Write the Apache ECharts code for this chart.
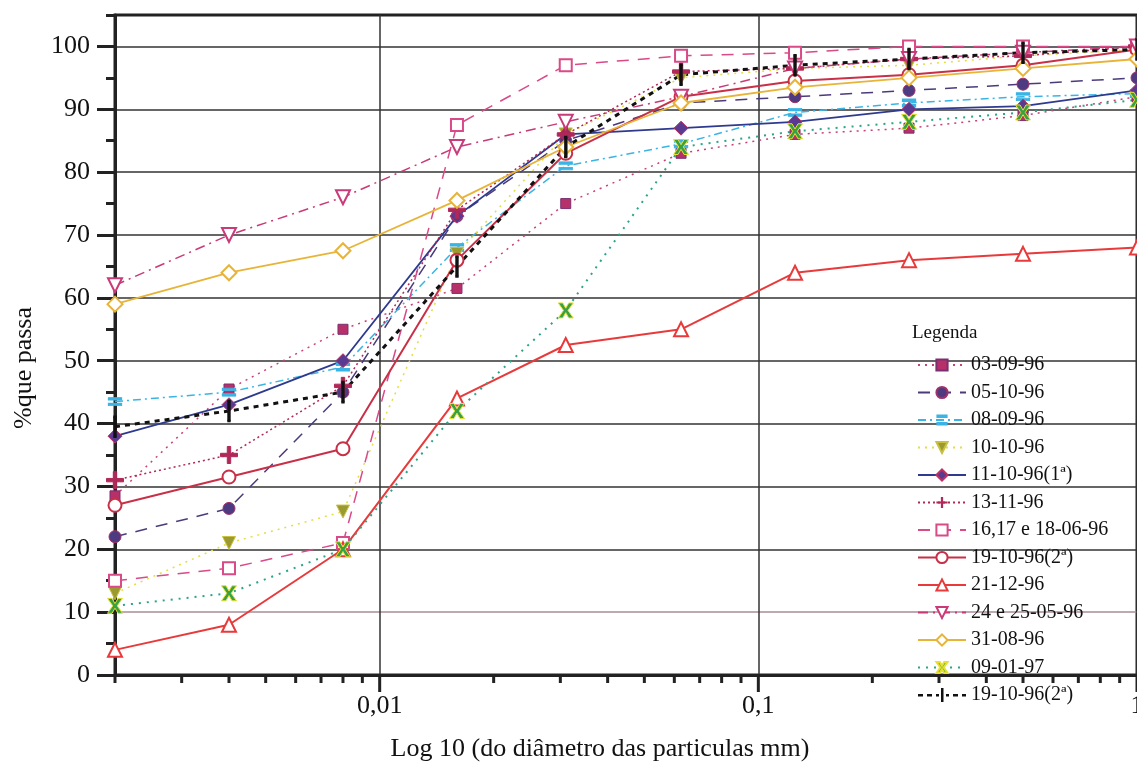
<!DOCTYPE html>
<html>
<head>
<meta charset="utf-8">
<script src="https://cdn.jsdelivr.net/npm/echarts@6/dist/echarts.min.js"></script>
<style>
  html, body { margin: 0; padding: 0; background: #fff; }
  #chart { width: 1137px; height: 764px; }
</style>
</head>
<body>
<div id="chart"></div>
<script>
// Particle diameters (mm) of the sieve / sedimentation steps
const sizes = [0.002, 0.004, 0.008, 0.016, 0.031, 0.0625, 0.125, 0.25, 0.5, 1];

// Cumulative % passing for each sampling date
const s030996  = [28.5, 45.5, 55, 61.5, 75, 83, 86, 87, 89, 92];
const s051096  = [22, 26.5, 45, 73, 85, 91, 92, 93, 94, 95];
const s080996  = [43.5, 45, 49, 68, 81, 84.5, 89.5, 91, 92, 92.5];
const s101096  = [13, 21, 26, 67, 86, 95, 96.5, 97, 98.5, 99.5];
const s111096  = [38, 43, 50, 73, 86, 87, 88, 90, 90.5, 93];
const s131196  = [31, 35, 46, 74, 86, 96, 96.5, 98, 98.5, 100];
const s161718  = [15, 17, 21, 87.5, 97, 98.5, 99, 100, 100, 100];
const s191096a = [27, 31.5, 36, 66, 83, 92, 94.5, 95.5, 97, 99.5];
const s211296  = [4, 8, 20, 44, 52.5, 55, 64, 66, 67, 68];
const s2425    = [62, 70, 76, 84, 88, 92, 96.5, 98, 99, 100];
const s310896  = [59, 64, 67.5, 75.5, 84, 91, 93.5, 95, 96.5, 98];
const s090197  = [11, 13, 20, 42, 58, 84, 86.5, 88, 89.5, 91.5];
const s191096b = [39.5, 42, 45, 65, 84, 95.5, 97, 98, 99, 99.5];

// Legend labels
const names = ['03-09-96', '05-10-96', '08-09-96', '10-10-96', '11-10-96(1ª)', '13-11-96',
  '16,17 e 18-06-96', '19-10-96(2ª)', '21-12-96', '24 e 25-05-96', '31-08-96', '09-01-97',
  '19-10-96(2ª) '];

// Y axis labels and log-decade tick marks on the x axis
const yLabels = [0, 10, 20, 30, 40, 50, 60, 70, 80, 90, 100];
const xDecades = [0.01, 0.1, 1];
const xMinorTicks = [];
[0.001, 0.01, 0.1].forEach(function (d) {
  for (let k = 2; k <= 9; k++) xMinorTicks.push(+(d * k).toPrecision(3));
});

const SERIF = "'Liberation Serif', 'DejaVu Serif', serif";
const pair = arr => sizes.map((x, i) => [x, arr[i]]);

function line(name, values, color, type, width, symbol, symbolSize, extra) {
  return Object.assign({
    type: 'line',
    name: name,
    data: pair(values),
    symbol: symbol,
    symbolSize: symbolSize,
    showAllSymbol: true,
    lineStyle: { color: color, type: type, width: width },
    itemStyle: { color: color, borderColor: color },
    emphasis: { disabled: true },
    z: 3
  }, extra || {});
}

const plusPath = 'path://M4,0H6V4H10V6H6V10H4V6H0V4H4Z';
const eqPath = 'path://M0,0H10V2.2H0Z M0,4.8H10V7H0Z';
const xPath = 'path://M0,0L3,0L5,3.5L7,0L10,0L6.5,5L10,10L7,10L5,6.5L3,10L0,10L3.5,5Z';
// legend glyph for the black dashed series: dashes with a vertical bar
const barDashIcon = 'path://M0,6H5V8.5H0Z M9,6H14V8.5H9Z M18,6H21V8.5H18Z M23,0H25.5V14H23Z ' +
  'M28,6H31V8.5H28Z M35,6H40V8.5H35Z M44,6H48V8.5H44Z';

const series = [
  line(names[0], s030996, '#c8407a', [2, 5], 1.5, 'rect', 10,
       { itemStyle: { color: '#b8306a', borderColor: '#7a3070', borderWidth: 1 } }),
  line(names[1], s051096, '#4b3b7d', [12, 9], 1.5, 'circle', 12,
       { itemStyle: { color: '#4e3a80', borderColor: '#a03068', borderWidth: 1 } }),
  line(names[2], s080996, '#3ab4e4', [8, 4, 2, 4], 1.5, eqPath, [13, 8]),
  line(names[3], s101096, '#e4df40', [2, 5], 1.5, 'triangle', 13,
       { symbolRotate: 180, itemStyle: { color: '#9a9a30', borderColor: '#c8c040', borderWidth: 1 } }),
  line(names[4], s111096, '#2e3a8e', 'solid', 1.8, 'diamond', 14,
       { itemStyle: { color: '#5a3a90', borderColor: '#c03060', borderWidth: 1 } }),
  line(names[5], s131196, '#b02858', [2, 3], 1.5, plusPath, 17),
  line(names[6], s161718, '#d84a88', [12, 9], 1.5, 'emptyRect', 12),
  line(names[7], s191096a, '#c83048', 'solid', 2, 'emptyCircle', 13),
  line(names[8], s211296, '#e83a3a', 'solid', 2, 'emptyTriangle', 14),
  line(names[9], s2425, '#c83a78', [10, 5, 2, 5], 1.5, 'emptyTriangle', 14, { symbolRotate: 180 }),
  line(names[10], s310896, '#e8b438', 'solid', 1.8, 'emptyDiamond', 15),
  line(names[11], s090197, '#2aa58a', [2, 6], 2, xPath, 15,
       { itemStyle: { color: '#3aa046', borderColor: '#e8e030', borderWidth: 1 } }),
  line(names[12], s191096b, '#111', [5, 5], 3, 'rect', [3, 20]),
  {
    // tick marks of the logarithmic x axis (decades long, 2..9 multiples short)
    type: 'custom',
    silent: true,
    z: 10,
    data: xDecades.map(v => [v, 0, 1]).concat(xMinorTicks.map(v => [v, 0, 0])),
    encode: { x: 0, y: 1 },
    renderItem: function (params, api) {
      const p = api.coord([api.value(0), 0]);
      const len = api.value(2) ? 17 : 8;
      return {
        type: 'line',
        shape: { x1: p[0], y1: p[1], x2: p[0], y2: p[1] + len },
        style: { stroke: '#222', lineWidth: 3 }
      };
    }
  }
];

// Horizontal grid colours, one per 5-unit step (only every 10 is drawn)
const splitColors = [];
for (let i = 0; i <= 21; i++) {
  if (i % 2 === 1 || i === 0 || i === 21) splitColors.push('rgba(0,0,0,0)');
  else if (i === 2) splitColors.push('#a88c9a');
  else splitColors.push('#333');
}

const legendData = names.map(function (n, i) {
  return i === names.length - 1 ? { name: n, icon: barDashIcon, itemStyle: { color: '#111' } } : { name: n };
});

const chart = echarts.init(document.getElementById('chart'));
chart.setOption({
  backgroundColor: '#fff',
  animation: false,
  grid: {
    left: 115, top: 15, right: 0, bottom: 89,
    outerBoundsMode: 'none',
    containLabel: false,
    show: true, borderColor: '#222', borderWidth: 3, backgroundColor: 'transparent'
  },
  xAxis: {
    type: 'log',
    logBase: 10,
    min: 0.002,
    max: 1,
    axisLine: { lineStyle: { color: '#222', width: 3 } },
    axisTick: { show: false },
    axisLabel: {
      margin: 18,
      color: '#111',
      fontFamily: SERIF,
      fontSize: 26,
      showMinLabel: false,
      formatter: function (v) {
        const l = Math.log10(v);
        if (Math.abs(l - Math.round(l)) > 1e-6) return '';
        return String(+v.toPrecision(3)).replace('.', ',');
      }
    },
    splitLine: { show: true, lineStyle: { color: '#333', width: 1.5 } }
  },
  yAxis: [{
    type: 'value',
    min: 0,
    max: 105,
    interval: 5,
    axisLine: { show: true, lineStyle: { color: '#222', width: 3 } },
    axisTick: { show: true, length: 9, lineStyle: { color: '#222', width: 3 } },
    axisLabel: {
      margin: 25,
      color: '#111',
      fontFamily: SERIF,
      fontSize: 26,
      formatter: function (v) { return yLabels.indexOf(v) >= 0 ? String(v) : ''; }
    },
    splitLine: { show: true, lineStyle: { color: splitColors, width: 1.5 } }
  }, {
    type: 'value',
    min: 0,
    max: 105,
    position: 'left',
    axisLine: { show: false },
    axisTick: { show: true, customValues: yLabels, length: 18, lineStyle: { color: '#222', width: 3 } },
    axisLabel: { show: false },
    splitLine: { show: false }
  }],
  legend: {
    orient: 'vertical',
    left: 912,
    top: 350,
    itemWidth: 48,
    itemHeight: 14,
    itemGap: 7.5,
    data: legendData,
    formatter: n => n.trim(),
    textStyle: { fontFamily: SERIF, fontSize: 20, color: '#111', lineHeight: 20 },
    selectedMode: false
  },
  graphic: [
    {
      type: 'text', left: 912, top: 324, z: 100,
      style: { text: 'Legenda', font: '19px ' + SERIF, fill: '#111' }
    },
    {
      type: 'text', x: 600, y: 749, z: 100,
      style: {
        text: 'Log 10 (do diâmetro das particulas mm)', font: '26px ' + SERIF, fill: '#111',
        textAlign: 'center', textVerticalAlign: 'middle'
      }
    },
    {
      type: 'text', x: 24, y: 368, rotation: Math.PI / 2, z: 100,
      style: {
        text: '%que passa', font: '26px ' + SERIF, fill: '#111',
        textAlign: 'center', textVerticalAlign: 'middle'
      }
    }
  ],
  series: series
});
</script>
</body>
</html>
